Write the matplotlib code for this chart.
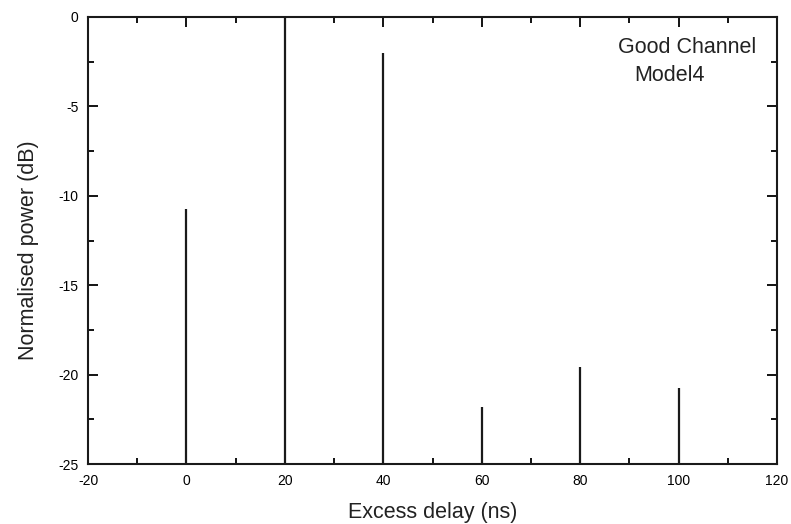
import matplotlib as mpl
mpl.use('Agg')
import matplotlib.pyplot as plt
from matplotlib.ticker import MultipleLocator

plt.rcParams['font.family'] = ['Liberation Sans', 'DejaVu Sans']
plt.rcParams['axes.unicode_minus'] = False

# power delay profile
delay_ns = [0, 20, 40, 60, 80, 100]
power_db = [-10.75, 0.0, -2.0, -21.8, -19.6, -20.75]

fig = plt.figure(figsize=(7.91, 5.24), dpi=100)
ax = fig.add_axes([88 / 791, 1 - 464 / 524, (777 - 88) / 791, (464 - 17) / 524])

ax.vlines(delay_ns, -25, power_db, colors='#1a1a1a', linewidth=1.6)

ax.set_xlim(-20, 120)
ax.set_ylim(-25, 0)
ax.xaxis.set_major_locator(MultipleLocator(20))
ax.xaxis.set_minor_locator(MultipleLocator(10))
ax.yaxis.set_major_locator(MultipleLocator(5))
ax.yaxis.set_minor_locator(MultipleLocator(2.5))
ax.tick_params(which='both', direction='in', top=True, right=True, width=1.3, labelsize=10)
ax.tick_params(which='major', length=7, pad=7)
ax.tick_params(which='minor', length=4)
for s in ax.spines.values():
    s.set_linewidth(1.5)
    s.set_color('#1a1a1a')

ax.set_xlabel('Excess delay (ns)', fontsize=15.5, color='#222222')
ax.set_ylabel('Normalised power (dB)', fontsize=15.5, color='#222222')
ax.xaxis.set_label_coords(0.5, -0.085)
ax.yaxis.set_label_coords(-0.071, 0.479)

ax.text(0.769, 0.955, 'Good Channel', transform=ax.transAxes, ha='left', va='top',
        fontsize=15.5, color='#222222')
ax.text(0.793, 0.893, 'Model4', transform=ax.transAxes, ha='left', va='top',
        fontsize=15.5, color='#222222')

plt.savefig('out.png', dpi=100)
